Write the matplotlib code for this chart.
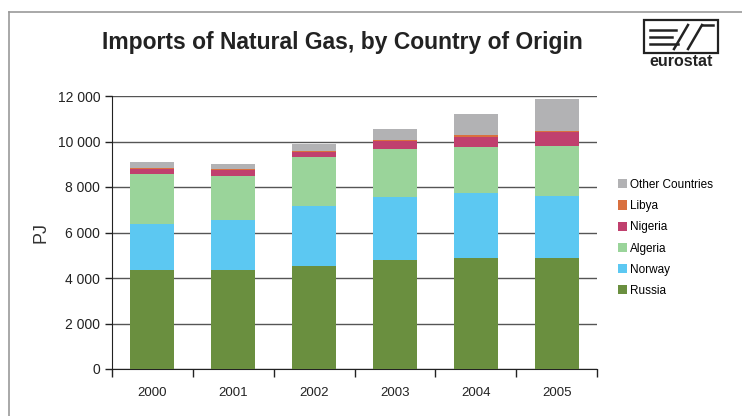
import numpy as np
import matplotlib.pyplot as plt
from matplotlib.patches import Rectangle
from matplotlib.lines import Line2D

plt.rcParams['font.family'] = ['Liberation Sans', 'DejaVu Sans']

# 数据 (PJ)
years = ['2000', '2001', '2002', '2003', '2004', '2005']
russia = [4370, 4370, 4530, 4810, 4880, 4880]
norway = [2020, 2200, 2630, 2770, 2860, 2720]
algeria = [2170, 1920, 2170, 2080, 2030, 2210]
nigeria = [250, 250, 220, 370, 410, 590]
libya = [40, 40, 40, 50, 100, 70]
other = [250, 250, 320, 480, 940, 1390]

series = [
    ('Russia', russia, '#6a8f3f'),
    ('Norway', norway, '#5cc8f2'),
    ('Algeria', algeria, '#9ad49a'),
    ('Nigeria', nigeria, '#c0406e'),
    ('Libya', libya, '#d9703f'),
    ('Other Countries', other, '#b2b2b4'),
]

fig = plt.figure(figsize=(7.42, 4.16), dpi=100)
ax = fig.add_axes([112 / 742, 1 - 369 / 416, 485 / 742, 273 / 416])

x = np.arange(len(years))
bottom = np.zeros(len(years))
handles = []
for name, vals, col in series:
    b = ax.bar(x, vals, width=0.545, bottom=bottom, color=col, label=name, zorder=3)
    bottom += np.array(vals)
    handles.append(b)

ax.set_xlim(-0.5, len(years) - 0.5)
ax.set_ylim(0, 12000)
ax.set_yticks(range(0, 12001, 2000))
ax.set_yticklabels([f'{v:,}'.replace(',', ' ') for v in range(0, 12001, 2000)], fontsize=10, color='#222222')
ax.yaxis.grid(True, color='#555555', linewidth=1, zorder=0)
ax.set_xticks(x)
ax.set_xticklabels(years, fontsize=9.5, color='#222222')
ax.tick_params(axis='x', length=0, pad=13)
ax.tick_params(axis='y', length=5, width=1, direction='out', color='#222222')
# x 轴分隔刻度
ax.set_xticks(np.arange(-0.5, len(years)), minor=True)
ax.tick_params(axis='x', which='minor', length=6, width=1, direction='out', color='#222222')
for s in ['top', 'right']:
    ax.spines[s].set_visible(False)
ax.spines['left'].set_color('#222222')
ax.spines['bottom'].set_color('#222222')
ax.set_ylabel('PJ', fontsize=13, color='#333333', labelpad=6)

ax.legend(handles[::-1], [s[0] for s in series][::-1], loc='upper left',
          bbox_to_anchor=(612 / 742, 1 - 173 / 416), bbox_transform=fig.transFigure,
          frameon=False, fontsize=8.5, handlelength=0.8, handleheight=0.8,
          handletextpad=0.2, labelspacing=0.78, borderpad=0)

fig.text(342 / 742, 1 - 43 / 416, 'Imports of Natural Gas, by Country of Origin',
         ha='center', va='center', fontsize=16.5, fontweight='bold', color='#222222')

# 外框
fig.add_artist(Line2D([9 / 742, 9 / 742], [0, 1 - 12 / 416], transform=fig.transFigure,
                      color='#999999', linewidth=1.2))
fig.add_artist(Line2D([9 / 742, 1], [1 - 12 / 416, 1 - 12 / 416], transform=fig.transFigure,
                      color='#999999', linewidth=1.2))

# eurostat 标志
lx0, ly0, lw, lh = 644, 20, 74, 33
fig.add_artist(Rectangle((lx0 / 742, 1 - (ly0 + lh) / 416), lw / 742, lh / 416,
                         transform=fig.transFigure, fill=False, edgecolor='#222222', linewidth=1.6))
def px(xp, yp):
    return xp / 742, 1 - yp / 416
for (x1, y1, x2, y2) in [(650, 30, 676, 30), (650, 37, 672, 37), (650, 44, 678, 44),
                         (674, 49, 688, 25), (688, 49, 702, 25), (702, 25, 713, 25)]:
    a, b_ = px(x1, y1)
    c, d = px(x2, y2)
    fig.add_artist(Line2D([a, c], [b_, d], transform=fig.transFigure, color='#222222', linewidth=1.8))
fig.text(681 / 742, 1 - 62 / 416, 'eurostat', ha='center', va='center', fontsize=11.5,
         fontweight='bold', color='#222222')

fig.savefig('out.png', dpi=100)
